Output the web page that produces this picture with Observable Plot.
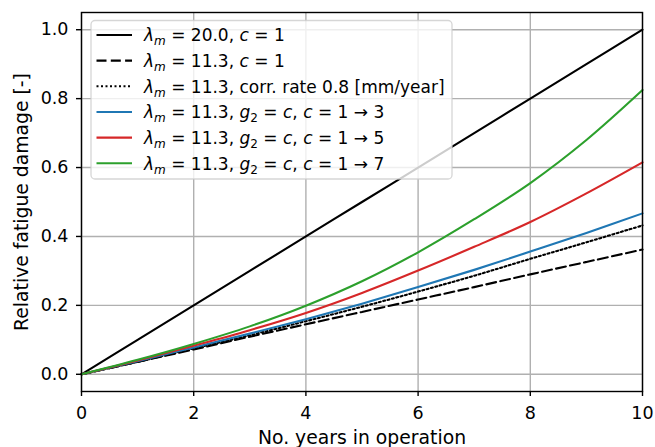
<!DOCTYPE html>
<html>
<head>
<meta charset="utf-8">
<script src="https://cdn.jsdelivr.net/npm/d3@7"></script>
<script src="https://cdn.jsdelivr.net/npm/@observablehq/plot@0.6"></script>
<style>
  html, body { margin: 0; padding: 0; background: #fff; }
  #chart svg { display: block; }
</style>
</head>
<body>
<div id="chart"></div>
<script>
// Years in operation (x) and relative fatigue damage for each scenario (y)
const years = [0, 1, 2, 3, 4, 5, 6, 7, 8, 9, 10];
const damageLambda20 = [0, 0.1, 0.2, 0.3, 0.4, 0.5, 0.6, 0.7, 0.8, 0.9, 1.0];
const damageLambda113 = [0, 0.036, 0.072, 0.109, 0.145, 0.181, 0.217, 0.253, 0.290, 0.326, 0.362];
const damageCorrosion = [0, 0.036, 0.075, 0.113, 0.154, 0.196, 0.240, 0.286, 0.335, 0.383, 0.432];
const damageC3 = [0, 0.038, 0.078, 0.118, 0.160, 0.205, 0.253, 0.303, 0.356, 0.410, 0.467];
const damageC5 = [0, 0.040, 0.083, 0.128, 0.178, 0.236, 0.301, 0.370, 0.442, 0.525, 0.615];
const damageC7 = [0, 0.042, 0.088, 0.139, 0.199, 0.270, 0.354, 0.450, 0.555, 0.680, 0.825];

const seriesKeys = ["l20", "l113", "corr", "c3", "c5", "c7"];
const seriesData = [damageLambda20, damageLambda113, damageCorrosion, damageC3, damageC5, damageC7];

// Legend labels as (text, style) fragments: "i" italic, "sub" italic subscript, "sub0" upright subscript
const legendLabels = [
  [["λ", "i"], ["m", "sub"], [" = 20.0, "], ["c", "i"], [" = 1"]],
  [["λ", "i"], ["m", "sub"], [" = 11.3, "], ["c", "i"], [" = 1"]],
  [["λ", "i"], ["m", "sub"], [" = 11.3, corr. rate 0.8 [mm/year]"]],
  [["λ", "i"], ["m", "sub"], [" = 11.3, "], ["g", "i"], ["2", "sub0"], [" = "], ["c", "i"], [", "], ["c", "i"], [" = 1 → 3"]],
  [["λ", "i"], ["m", "sub"], [" = 11.3, "], ["g", "i"], ["2", "sub0"], [" = "], ["c", "i"], [", "], ["c", "i"], [" = 1 → 5"]],
  [["λ", "i"], ["m", "sub"], [" = 11.3, "], ["g", "i"], ["2", "sub0"], [" = "], ["c", "i"], [", "], ["c", "i"], [" = 1 → 7"]]
];

const xTicks = [0, 2, 4, 6, 8, 10];
const yTicks = [0, 0.2, 0.4, 0.6, 0.8, 1.0];
const xLabel = "No. years in operation";
const yLabel = "Relative fatigue damage [-]";

// Line styles per series
const lineStyle = {
  l20: {stroke: "#000000", dash: null},
  l113: {stroke: "#000000", dash: "10,4.3"},
  corr: {stroke: "#000000", dash: "2,2.5"},
  c3: {stroke: "#1f77b4", dash: null},
  c5: {stroke: "#d62728", dash: null},
  c7: {stroke: "#2ca02c", dash: null}
};

const rows = seriesKeys.flatMap((key, i) =>
  years.map((yr, j) => ({series: key, year: yr, damage: seriesData[i][j]}))
);

const FONT = "DejaVu Sans";
const W = 655, H = 447;
const LW = 2.1;

const lineMarks = seriesKeys.map(key =>
  Plot.line(rows.filter(d => d.series === key), {
    x: "year", y: "damage",
    stroke: lineStyle[key].stroke,
    strokeWidth: LW,
    strokeDasharray: lineStyle[key].dash ?? undefined,
    curve: "catmull-rom"
  })
);

const chart = Plot.plot({
  width: W,
  height: H,
  marginTop: 12,
  marginRight: 13,
  marginBottom: 56,
  marginLeft: 81,
  style: {fontFamily: FONT, fontSize: "17.5px", color: "#000", background: "#fff", overflow: "visible"},
  x: {domain: [0, 10]},
  y: {domain: [-0.05, 1.05]},
  marks: [
    Plot.gridX(xTicks, {stroke: "#b0b0b0", strokeOpacity: 1, strokeWidth: 1.4}),
    Plot.gridY(yTicks, {stroke: "#b0b0b0", strokeOpacity: 1, strokeWidth: 1.4}),
    ...lineMarks,
    Plot.frame({stroke: "#000", strokeWidth: 1.4}),
    Plot.axisX(xTicks, {tickSize: 5, tickPadding: 10, strokeWidth: 1.4, tickFormat: d => String(d), label: null, fontSize: 17.5}),
    Plot.axisY(yTicks, {tickSize: 5, tickPadding: 8, strokeWidth: 1.4, tickFormat: d => d.toFixed(1), label: null, fontSize: 17.5}),
    Plot.text([xLabel], {frameAnchor: "bottom", lineAnchor: "bottom", textAnchor: "middle", dy: 52.5, fontSize: 18.8, text: d => d}),
    Plot.text([yLabel], {frameAnchor: "left", textAnchor: "middle", dx: -59.5, rotate: -90, fontSize: 18.8, text: d => d})
  ]
});

document.getElementById("chart").appendChild(chart);

// Legend box in the upper-left corner of the axes
const svg = d3.select(chart);
const legend = svg.append("g")
  .attr("font-family", FONT).attr("font-size", 17).attr("text-anchor", "start");
legend.append("rect")
  .attr("x", 91).attr("y", 20.5).attr("width", 361).attr("height", 158.5)
  .attr("rx", 4).attr("ry", 4)
  .attr("fill", "#fff").attr("fill-opacity", 0.8)
  .attr("stroke", "#cccccc").attr("stroke-opacity", 0.8).attr("stroke-width", 1.3);

seriesKeys.forEach((key, i) => {
  const cy = 35 + i * 25.65;
  legend.append("line")
    .attr("x1", 96.5).attr("x2", 132).attr("y1", cy).attr("y2", cy)
    .attr("stroke", lineStyle[key].stroke).attr("stroke-width", LW)
    .attr("stroke-dasharray", lineStyle[key].dash);
  const t = legend.append("text")
    .attr("x", 144).attr("y", cy + 6.3).attr("fill", "#000").attr("text-anchor", "start");
  let shifted = 0;
  for (const [str, kind] of legendLabels[i]) {
    const span = t.append("tspan").text(str);
    const isSub = kind === "sub" || kind === "sub0";
    const target = isSub ? 4 : 0;
    if (target !== shifted) { span.attr("dy", target - shifted); shifted = target; }
    if (kind === "i" || kind === "sub") span.attr("font-style", "italic");
    if (isSub) span.attr("font-size", 12);
  }
});
</script>
</body>
</html>
